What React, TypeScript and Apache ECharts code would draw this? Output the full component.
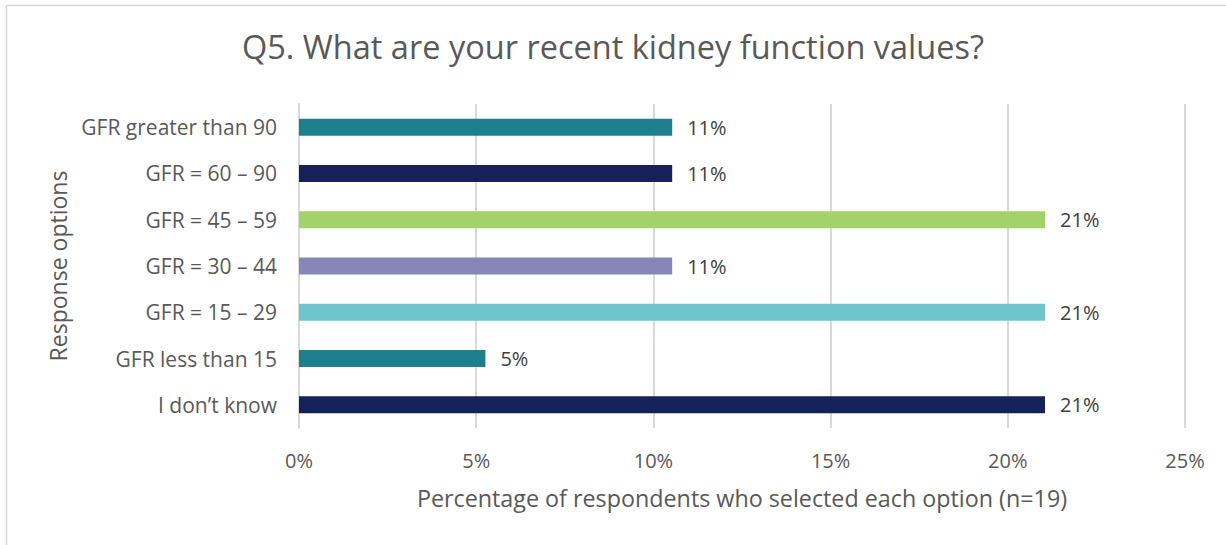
import React, { useEffect, useRef } from "react";
import * as echarts from "echarts";

const categories = [
  "GFR greater than 90",
  "GFR = 60 – 90",
  "GFR = 45 – 59",
  "GFR = 30 – 44",
  "GFR = 15 – 29",
  "GFR less than 15",
  "I don’t know",
];
const values = [10.53, 10.53, 21.05, 10.53, 21.05, 5.26, 21.05];
const labels = ["11%", "11%", "21%", "11%", "21%", "5%", "21%"];
const colors = ["#1F7F8C", "#16215B", "#A2D368", "#8687B7", "#6DC4CB", "#1F7F8C", "#16215B"];
const xTicks = [0, 5, 10, 15, 20, 25];

const FONT = "'Open Sans', 'Noto Sans', sans-serif";

export default function App() {
  const ref = useRef<HTMLDivElement>(null);
  useEffect(() => {
    if (!ref.current) return;
    const chart = echarts.init(ref.current, null, { renderer: "svg" });
    const rev = (a: any[]) => a.slice().reverse();
    chart.setOption({
      animation: false,
      backgroundColor: "#ffffff",
      textStyle: { fontFamily: FONT },
      title: {
        text: "Q5. What are your recent kidney function values?",
        left: "center",
        top: 25,
        textStyle: { fontFamily: FONT, fontSize: 32.5, fontWeight: "normal", color: "#595959" },
      },
      graphic: [
        { type: "line", shape: { x1: 6.5, y1: 5.5, x2: 1226, y2: 5.5 }, style: { stroke: "#D9D9D9", lineWidth: 1.5 } },
        { type: "line", shape: { x1: 6.5, y1: 5.5, x2: 6.5, y2: 545 }, style: { stroke: "#D9D9D9", lineWidth: 1.5 } },
      ],
      grid: { left: 299, right: 41, top: 104, bottom: 117, containLabel: false },
      xAxis: {
        type: "value",
        min: 0,
        max: 25,
        interval: 5,
        axisLabel: {
          formatter: (v: number) => (xTicks.includes(v) ? v + "%" : ""),
          fontFamily: FONT,
          fontSize: 20,
          color: "#595959",
          margin: 22,
        },
        axisLine: { show: false },
        axisTick: { show: false },
        splitLine: { show: true, lineStyle: { color: "#D9D9D9", width: 2 } },
        name: "Percentage of respondents who selected each option (n=19)",
        nameLocation: "middle",
        nameGap: 58,
        nameTextStyle: { fontFamily: FONT, fontSize: 23.3, color: "#595959" },
      },
      yAxis: {
        type: "category",
        data: rev(categories),
        axisLabel: { fontFamily: FONT, fontSize: 21, color: "#595959", margin: 22 },
        axisLine: { show: true, lineStyle: { color: "#D9D9D9", width: 2 } },
        axisTick: { show: false },
        name: "Response options",
        nameLocation: "middle",
        nameGap: 230,
        nameRotate: 90,
        nameTextStyle: { fontFamily: FONT, fontSize: 23, color: "#595959" },
      },
      series: [
        {
          type: "bar",
          barWidth: 17,
          data: rev(values).map((v: number, i: number) => ({
            value: v,
            itemStyle: { color: rev(colors)[i] },
          })),
          label: {
            show: true,
            position: "right",
            distance: 15,
            fontFamily: FONT,
            fontSize: 20,
            color: "#404040",
            formatter: (p: any) => rev(labels)[p.dataIndex],
          },
        },
      ],
    });
    return () => chart.dispose();
  }, []);
  return (
    <div
      ref={ref}
      style={{ position: "fixed", left: 0, top: 0, width: 1226, height: 545, background: "#fff" }}
    />
  );
}
